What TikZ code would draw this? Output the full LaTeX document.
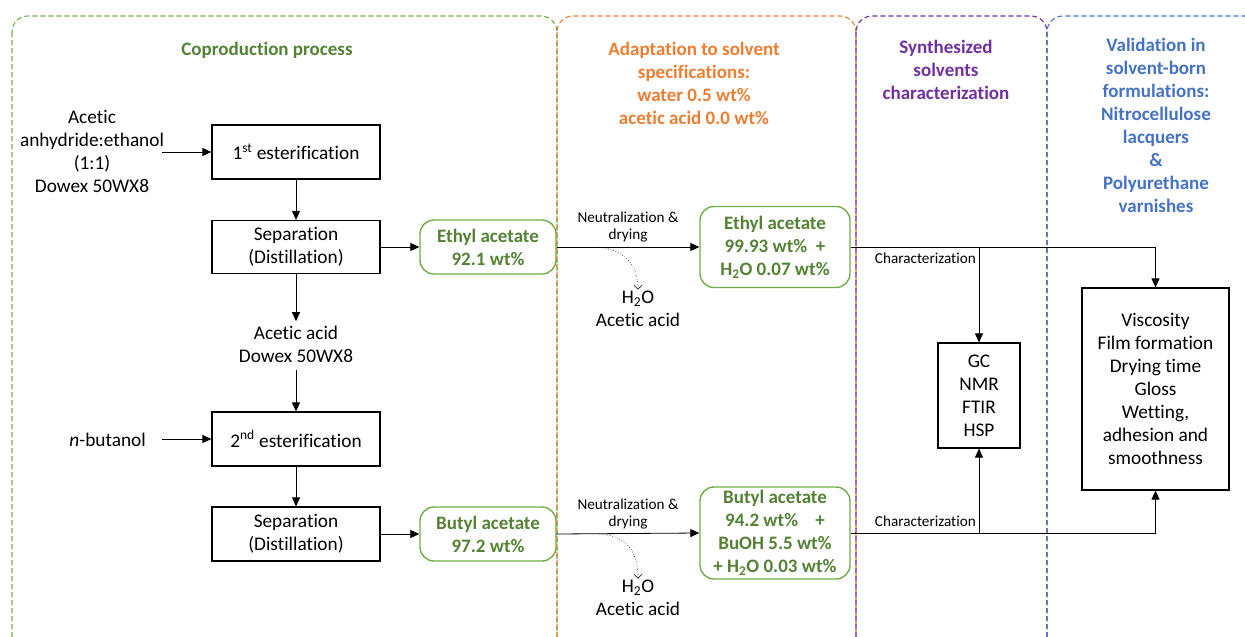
\documentclass[tikz,border=0pt]{standalone}
\usepackage{fontspec}
\setmainfont{Carlito}[Ligatures=NoCommon]
\usetikzlibrary{arrows.meta,calc}
\definecolor{gline}{HTML}{70AD47}
\definecolor{gtext}{HTML}{548235}
\definecolor{oline}{HTML}{ED7D31}
\definecolor{pline}{HTML}{7030A0}
\definecolor{bline}{HTML}{4472C4}
\begin{document}
\begin{tikzpicture}[x=1pt,y=-1pt,
  every node/.style={font=\fontsize{19.3}{23}\selectfont, align=center},
  proc/.style={draw=black, line width=1.2pt, minimum width=168pt, inner sep=2pt},
  prod/.style={draw=gline, line width=1.4pt, rounded corners=14pt, text=gtext, font=\bfseries\fontsize{19}{23}\selectfont, inner sep=1pt},
  panel/.style={line width=1.1pt, dash pattern=on 5pt off 3pt, rounded corners=16pt},
  arr/.style={line width=0.8pt, -{Triangle[length=9pt,width=8pt]}},
  dot/.style={line width=0.6pt, dotted, -{Straight Barb[length=4pt,width=8pt]}},
  small/.style={font=\fontsize{15.2}{17}\selectfont, inner sep=1pt},
  ttl/.style={font=\bfseries\fontsize{19}{23}\selectfont}
]
\useasboundingbox (0,0) rectangle (1245,637);
\clip (0,0) rectangle (1245,637);
% panels
\draw[panel, draw=gline] (12,16) rectangle (557,662);
\draw[panel, draw=oline] (557,16) rectangle (856,662);
\draw[panel, draw=pline] (856,16) rectangle (1047,662);
\draw[panel, draw=bline] (1047,16) rectangle (1275,662);
% titles
\node[ttl, text=gtext] (t1) at (267,50) {Coproduction process};
\node[ttl, text=oline] (t2) at (694,83) {Adaptation to solvent\\specifications:\\water 0.5 wt\%\\acetic acid 0.0 wt\%};
\node[ttl, text=pline] (t3) at (946,70) {Synthesized\\solvents\\characterization};
\node[ttl, text=bline] (t4) at (1156,125) {Validation in\\solvent-born\\formulations:\\Nitrocellulose\\lacquers\\\&\\Polyurethane\\varnishes};
% process boxes
\node[proc, minimum height=54pt] (est1) at (296,152) {1\textsuperscript{st} esterification};
\node[proc, minimum height=53pt] (sep1) at (296,247) {Separation\\(Distillation)};
\node (acid) at (296,344) {Acetic acid\\Dowex 50WX8};
\node[proc, minimum height=54pt] (est2) at (296,439) {2\textsuperscript{nd} esterification};
\node[proc, minimum height=54pt] (sep2) at (296,534) {Separation\\(Distillation)};
\node (feed1) at (92,151) {Acetic\\anhydride:ethanol\\(1:1)\\Dowex 50WX8};
\node[anchor=east, inner sep=0pt] (feed2) at (146,440) {\textit{n}-butanol};
\coordinate (f1) at (162,152);
\coordinate (f2) at (162,439);
\draw[arr] (f1) -- (est1.west);
\draw[arr] (f2) -- (est2.west);
\draw[arr] (est1.south) -- (sep1.north);
\draw[arr] (sep1.south) -- ($(acid.north)+(0,-1)$);
\draw[arr] ($(acid.south)+(0,4)$) -- (est2.north);
\draw[arr] (est2.south) -- (sep2.north);
% products
\node[prod, minimum width=136pt, minimum height=54pt] (eth1) at (488,247) {Ethyl acetate\\92.1 wt\%};
\node[prod, minimum width=150pt, minimum height=81pt] (eth2) at (775,247) {Ethyl acetate\\99.93 wt\%\ \ +\\H\textsubscript{2}O 0.07 wt\%};
\node[prod, minimum width=136pt, minimum height=54pt] (bu1) at (488,534) {Butyl acetate\\97.2 wt\%};
\node[prod, minimum width=150pt, minimum height=92pt] (bu2) at (775,533) {Butyl acetate\\94.2 wt\%\ \ \ \ +\\BuOH 5.5 wt\%\\+ H\textsubscript{2}O 0.03 wt\%};
\draw[arr] (sep1.east) -- (eth1.west);
\draw[arr] (sep2.east) -- (bu1.west);
\draw[arr] (eth1.east) -- node[small, above=3pt] (nd1) {Neutralization \&\\drying} (eth2.west);
\draw[arr] (bu1.east) -- node[small, above=3pt] (nd2) {Neutralization \&\\drying} (bu2.west);
% by-products
\node (w1) at (638,309) {H\textsubscript{2}O\\Acetic acid};
\node (w2) at (638,598) {H\textsubscript{2}O\\Acetic acid};
\coordinate (d1) at ($(eth1.east)!0.29!(eth2.west)$);
\coordinate (d2) at ($(bu1.east)!0.30!(bu2.west)$);
\draw[dot] (d1) .. controls (625,250) and (638,265) .. ($(w1.north)+(0,2)$);
\draw[dot] (d2) .. controls (627,536) and (638,552) .. ($(w2.north)+(0,2)$);
% characterization
\node[proc, minimum width=82pt, minimum height=105pt] (gc) at (979,395.5) {GC\\NMR\\FTIR\\HSP};
\node[proc, minimum width=147pt, minimum height=202pt] (visc) at (1155.5,389) {Viscosity\\Film formation\\Drying time\\Gloss\\Wetting,\\adhesion and\\smoothness};
\draw[arr] (eth2.east) -| (visc.north);
\draw[arr] (gc.north |- eth2.east) -- (gc.north);
\draw[arr] (bu2.east) -| (visc.south);
\draw[arr] (gc.south |- bu2.east) -- (gc.south);
\node[small, anchor=north east] (c1) at ($(gc.north |- eth2.east)+(-2,5)$) {Characterization};
\node[small, anchor=south east] (c2) at ($(gc.south |- bu2.east)+(-2,-5)$) {Characterization};
\end{tikzpicture}
\end{document}
